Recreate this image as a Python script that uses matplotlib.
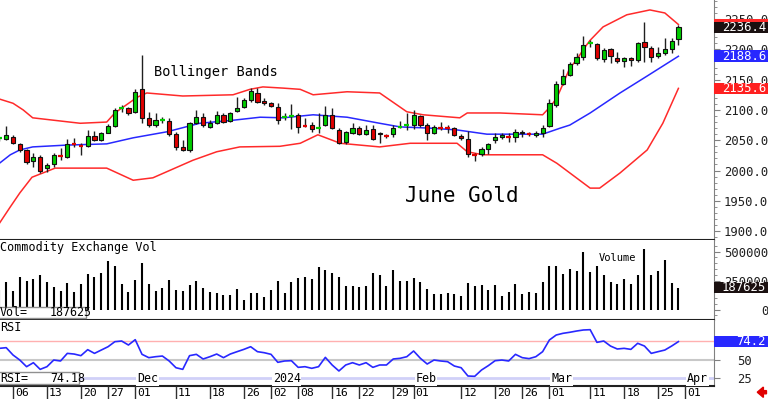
import numpy as np
import pandas as pd
import matplotlib
matplotlib.use('Agg')
import matplotlib.pyplot as plt
import matplotlib.transforms as mtransforms
from matplotlib.patches import Rectangle, FancyArrow
from matplotlib.ticker import MultipleLocator, FixedLocator

plt.rcParams['font.family'] = 'DejaVu Sans Mono'

# trading days, Nov 2 2023 .. Apr 1 2024 (COMEX holidays left out)
holidays = ['2023-11-23', '2023-12-25', '2024-01-01', '2024-01-15',
            '2024-02-19', '2024-03-29']
days = pd.bdate_range('2023-11-02', '2024-04-01', freq='C', holidays=holidays)

# daily OHLC, June gold
opens = [2052, 2052, 2055, 2044, 2034, 2016, 2022, 2004, 2011, 2025,
         2022, 2045, 2041, 2040, 2057, 2050, 2062, 2074, 2102, 2103,
         2097, 2135, 2087, 2075, 2082, 2082, 2060, 2039, 2034, 2078,
         2088, 2072, 2078, 2091, 2082, 2098, 2105, 2117, 2128, 2115,
         2111, 2105, 2087, 2089, 2092, 2074, 2075, 2069, 2075, 2092,
         2067, 2047, 2062, 2070, 2060, 2068, 2060, 2058, 2060, 2071,
         2074, 2075, 2090, 2075, 2062, 2071, 2071, 2070, 2057, 2052,
         2027, 2027, 2036, 2050, 2055, 2056, 2055, 2064, 2061, 2059,
         2062, 2073, 2108, 2143, 2158, 2177, 2187, 2209, 2209, 2184,
         2200, 2186, 2181, 2186, 2182, 2212, 2202, 2189, 2194, 2200,
         2217]
highs = [2055, 2073, 2058, 2045, 2035, 2029, 2026, 2012, 2029, 2037,
         2052, 2054, 2045, 2067, 2065, 2064, 2077, 2103, 2108, 2105,
         2135, 2190, 2097, 2095, 2088, 2087, 2064, 2050, 2080, 2100,
         2095, 2083, 2098, 2095, 2097, 2121, 2120, 2136, 2136, 2120,
         2113, 2111, 2095, 2110, 2095, 2087, 2080, 2095, 2106, 2103,
         2070, 2066, 2078, 2073, 2075, 2075, 2064, 2060, 2075, 2082,
         2095, 2100, 2092, 2078, 2075, 2080, 2075, 2072, 2060, 2065,
         2029, 2039, 2045, 2062, 2062, 2062, 2069, 2067, 2064, 2065,
         2075, 2118, 2148, 2167, 2179, 2194, 2222, 2215, 2210, 2202,
         2202, 2196, 2188, 2188, 2212, 2245, 2205, 2204, 2219, 2219,
         2240]
lows = [2049, 2050, 2043, 2031, 2011, 2006, 1996, 1998, 2006, 2017,
        2021, 2039, 2026, 2039, 2049, 2049, 2062, 2072, 2097, 2092,
        2095, 2078, 2072, 2072, 2078, 2057, 2034, 2032, 2031, 2077,
        2072, 2070, 2077, 2078, 2080, 2097, 2103, 2113, 2111, 2108,
        2105, 2077, 2083, 2068, 2062, 2072, 2064, 2062, 2073, 2068,
        2044, 2044, 2060, 2058, 2058, 2050, 2045, 2054, 2055, 2070,
        2067, 2068, 2072, 2050, 2060, 2067, 2062, 2057, 2050, 2022,
        2016, 2024, 2027, 2045, 2052, 2047, 2047, 2055, 2057, 2055,
        2055, 2072, 2105, 2141, 2156, 2174, 2182, 2204, 2182, 2179,
        2177, 2177, 2171, 2172, 2179, 2179, 2179, 2186, 2191, 2194,
        2207]
closes = [2053, 2059, 2045, 2034, 2014, 2022, 1999, 2009, 2026, 2024,
          2044, 2044, 2040, 2057, 2050, 2062, 2074, 2100, 2103, 2095,
          2130, 2087, 2075, 2083, 2083, 2060, 2039, 2034, 2078, 2088,
          2075, 2078, 2091, 2080, 2095, 2103, 2117, 2131, 2113, 2111,
          2106, 2083, 2088, 2090, 2072, 2073, 2068, 2070, 2092, 2070,
          2045, 2064, 2070, 2060, 2067, 2052, 2062, 2057, 2070, 2072,
          2075, 2092, 2075, 2062, 2072, 2070, 2070, 2059, 2054, 2027,
          2026, 2036, 2044, 2055, 2059, 2055, 2064, 2062, 2060, 2062,
          2070, 2111, 2143, 2156, 2176, 2187, 2207, 2210, 2186, 2199,
          2189, 2181, 2186, 2182, 2210, 2204, 2187, 2194, 2200, 2214,
          2236.4]

# Bollinger bands (bar index, price)
upper_idx = [0, 2, 3.5, 4.9, 11.9, 15.8, 17, 20.3, 21.7, 27, 34.4, 36.9, 38.8,
             41.8, 44.3, 46.2, 51.2, 56, 60, 62.4, 67.8, 68.9, 73.7, 80, 81.1,
             82.1, 83, 84, 85.1, 86, 87, 88.9, 92.4, 95.8, 98, 100]
upper_val = [2118, 2111, 2100, 2087, 2078, 2080, 2095, 2121, 2128, 2123, 2125,
             2134, 2138, 2136, 2134, 2125, 2130, 2128, 2097, 2092, 2087, 2095,
             2095, 2092, 2105, 2120, 2143, 2169, 2184, 2200, 2215, 2237, 2257,
             2265, 2260, 2241]
mid_idx = [0, 1.6, 3, 4.9, 9.9, 15.8, 19.7, 24.7, 29.5, 34.4, 38.4, 41.8, 46.2,
           51.2, 56, 59, 63.4, 67.4, 71.8, 80, 82.6, 84, 87, 91.4, 95.4, 100]
mid_val = [2012, 2026, 2034, 2039, 2042, 2044, 2054, 2064, 2078, 2083, 2088,
           2087, 2092, 2088, 2078, 2072, 2070, 2067, 2060, 2060, 2070, 2075,
           2095, 2128, 2156, 2188.6]
lower_idx = [0, 1.6, 3, 4.8, 6.4, 8.2, 15.8, 19.7, 22.6, 28.5, 32, 35.4, 41.3,
             44.3, 46.9, 50.2, 56, 60.5, 67.4, 68.9, 71.2, 80, 82.1, 87, 88.4,
             91.4, 95.4, 97.7, 100]
lower_val = [1913, 1940, 1963, 1989, 1996, 2004, 2004, 1984, 1988, 2017, 2031,
             2039, 2040, 2045, 2059, 2045, 2039, 2045, 2045, 2031, 2026, 2026,
             2012, 1971, 1971, 1996, 2034, 2078, 2135.6]

volume = [168000, 240000, 159000, 283000, 246000, 263000, 297000, 240000, 197000, 159000,
          226000, 154000, 217000, 303000, 283000, 312000, 418000, 378000, 217000, 154000,
          254000, 398000, 217000, 159000, 188000, 254000, 168000, 159000, 211000, 246000,
          183000, 148000, 140000, 125000, 125000, 177000, 82000, 140000, 140000, 110000,
          168000, 246000, 140000, 234000, 269000, 283000, 263000, 369000, 340000, 312000,
          283000, 203000, 203000, 191000, 203000, 312000, 297000, 205000, 340000, 246000,
          246000, 269000, 234000, 177000, 131000, 131000, 140000, 131000, 119000, 226000,
          205000, 211000, 168000, 211000, 119000, 154000, 217000, 131000, 154000, 140000,
          234000, 378000, 375000, 303000, 349000, 332000, 498000, 326000, 375000, 297000,
          234000, 217000, 263000, 217000, 294000, 519000, 294000, 335000, 427000, 226000,
          187625]

rsi = [65.1, 66, 56.1, 49.3, 40.3, 45.7, 36.7, 40.3, 49.3, 48,
       58.3, 57.4, 55.2, 63.3, 58.3, 62.8, 67.3, 74.1, 75, 69.6,
       76.8, 57, 52.5, 53.8, 54.7, 48, 38.9, 36.7, 55.2, 57,
       50.7, 53.8, 57.4, 52.5, 57.4, 60.6, 63.7, 67.3, 60.6, 59.2,
       57, 46.2, 48, 48.4, 39.4, 40.3, 38.1, 40.3, 52.9, 42.6,
       34.5, 42.6, 45.7, 42.6, 45.7, 39.4, 42.6, 42.6, 50.7, 51.6,
       53.8, 61.5, 51.6, 43.9, 49.3, 48, 47.1, 41.2, 38.9, 27.7,
       27.3, 35.8, 41.7, 48.4, 49.3, 48, 57, 52.5, 51.2, 53.8,
       60.6, 76.4, 83.1, 85.4, 86.8, 88.5, 89.9, 90.3, 73.2, 75,
       68.2, 64.2, 65.1, 63.7, 71.9, 68.2, 58.3, 60.6, 62.8, 68.2,
       74.18]

date_ticks = ['2023-11-06', '2023-11-13', '2023-11-20', '2023-11-27', '2023-12-01',
              '2023-12-11', '2023-12-18', '2023-12-26', '2024-01-02', '2024-01-08',
              '2024-01-16', '2024-01-22', '2024-01-29', '2024-02-01', '2024-02-12',
              '2024-02-20', '2024-02-26', '2024-03-01', '2024-03-11', '2024-03-18',
              '2024-03-25', '2024-04-01']
month_ticks = ['2023-12-01', '2024-01-02', '2024-02-01', '2024-03-01', '2024-04-01']
month_labels = ['Dec', '2024', 'Feb', 'Mar', 'Apr']

GREEN = '#00cc00'
RED = '#e00000'
BAND_RED = '#ff2a2a'
BLUE = '#2828ff'
GRAY = '#808080'

W, H = 768.0, 399.0


def rect(x0, y0, x1, y1):
    return [x0 / W, 1 - y1 / H, (x1 - x0) / W, (y1 - y0) / H]


def value_box(ax, y, h, text, color):
    tr = mtransforms.blended_transform_factory(ax.transAxes, ax.transData)
    ax.add_patch(Rectangle((1.0, y - h / 2), 54 / 714, h, transform=tr,
                           facecolor=color, edgecolor='none', clip_on=False, zorder=10))
    ax.text(766 / 714, y, text, transform=tr, ha='right', va='center',
            color='white', fontsize=8.8, clip_on=False, zorder=11)


def style_panel(ax, ticks, labels, pad):
    for s in ['top', 'left']:
        ax.spines[s].set_visible(False)
    ax.spines['right'].set_color(GRAY)
    ax.spines['bottom'].set_color('#202020')
    ax.spines['bottom'].set_linewidth(1.5)
    ax.set_xticks([])
    ax.yaxis.tick_right()
    ax.yaxis.set_major_locator(FixedLocator(ticks))
    ax.set_yticklabels(labels)
    ax.tick_params(axis='y', which='major', direction='out', length=4, color=GRAY,
                   labelsize=8.8, pad=pad, labelcolor='#202020')
    ax.tick_params(axis='y', which='minor', direction='out', length=2, color=GRAY)
    for lbl in ax.get_yticklabels():
        lbl.set_horizontalalignment('right')


fig = plt.figure(figsize=(7.68, 3.99), dpi=100)
ax_p = fig.add_axes(rect(0, 0, 714, 240))
ax_v = fig.add_axes(rect(0, 240, 714, 320))
ax_r = fig.add_axes(rect(0, 320, 714, 386))
ax_d = fig.add_axes(rect(0, 386, 714, 399))

n = len(closes)
idx = np.arange(n)
o = np.array(opens, dtype=float)
c = np.array(closes, dtype=float)
hi = np.array(highs, dtype=float)
lo = np.array(lows, dtype=float)
xlim = (0.085, 105.24)

# ---- price panel
ax_p.vlines(idx, lo, hi, color='#202020', lw=1, zorder=2)
body = np.abs(c - o) >= 1.5
cols = np.where(c >= o, GREEN, RED)
ax_p.bar(idx[body], (c - o)[body], bottom=o[body], width=0.62,
         color=cols[body], edgecolor='#101010', linewidth=0.8, zorder=3)
ax_p.hlines(c[~body], idx[~body] - 0.35, idx[~body] + 0.35, colors=cols[~body],
            lw=1.6, zorder=3)
ax_p.plot(upper_idx, upper_val, color=BAND_RED, lw=1.1, zorder=1)
ax_p.plot(lower_idx, lower_val, color=BAND_RED, lw=1.1, zorder=1)
ax_p.plot(mid_idx, mid_val, color=BLUE, lw=1.1, zorder=1)
ax_p.set_xlim(*xlim)
ax_p.set_ylim(1885.4, 2281.4)
price_ticks = list(range(1900, 2300, 50))
style_panel(ax_p, price_ticks, ['%.1f' % t for t in price_ticks], 35)
ax_p.yaxis.set_minor_locator(MultipleLocator(10))
ax_p.text(154 / 714, (240 - 72) / 240, 'Bollinger Bands', transform=ax_p.transAxes,
          fontsize=9.8, va='center', ha='left')
ax_p.text(405 / 714, (240 - 196) / 240, 'June Gold', transform=ax_p.transAxes,
          fontsize=15, va='center', ha='left')
value_box(ax_p, upper_val[-1], 18, '', BAND_RED)
value_box(ax_p, closes[-1], 18, '%.1f' % closes[-1], '#1a1010')
value_box(ax_p, mid_val[-1], 19, '%.1f' % mid_val[-1], BLUE)
value_box(ax_p, lower_val[-1], 18, '%.1f' % lower_val[-1], '#ff2020')

# ---- volume panel
ax_v.vlines(idx, 0, volume, color='black', lw=1.5)
ax_v.set_xlim(*xlim)
ax_v.set_ylim(-90517, 599138)
style_panel(ax_v, [0, 250000, 500000], ['0', '250000', '500000'], 35)
ax_v.yaxis.set_minor_locator(MultipleLocator(50000))
ax_v.text(0.0, 0.9, 'Commodity Exchange Vol', transform=ax_v.transAxes,
          fontsize=8.5, va='center', ha='left')
ax_v.text((599 + 0.58) / 6.79, 0.775, 'Volume', transform=mtransforms.blended_transform_factory(
    ax_v.transData, ax_v.transAxes), fontsize=7.5, va='center', ha='left')
ax_v.add_patch(Rectangle((-0.01, 0.025), 93.5 / 714, 0.1375, transform=ax_v.transAxes,
                         facecolor='white', edgecolor='#909090', lw=1, zorder=10))
ax_v.text(0.0, 0.094, 'Vol=', transform=ax_v.transAxes, va='center', ha='left',
          fontsize=8.4, zorder=11)
ax_v.text(92 / 714, 0.094, '%d' % volume[-1], transform=ax_v.transAxes, va='center',
          ha='right', fontsize=8.4, zorder=11)
value_box(ax_v, volume[-1], 95000, '%d' % volume[-1], '#1a1010')

# ---- RSI panel
ax_r.axhline(75, color='#ffb0b0', lw=1, zorder=1)
ax_r.axhline(50, color='#c8c8c8', lw=1.5, zorder=1)
ax_r.axhline(24.5, color='#d0d0f8', lw=2, zorder=1)
ax_r.plot(idx, rsi, color=BLUE, lw=1.2, zorder=3)
ax_r.set_xlim(*xlim)
ax_r.set_ylim(14.2, 103.4)
style_panel(ax_r, [25, 50, 75], ['25', '50', ''], 23.5)
ax_r.text(0.0, 0.88, 'RSI', transform=ax_r.transAxes, fontsize=8.5, va='center', ha='left')
day_pos = {d.strftime('%Y-%m-%d'): i for i, d in enumerate(days)}
for m, lab in zip(month_ticks, month_labels):
    ax_r.text(day_pos[m] + 0.25, 24.5, lab, fontsize=8.4, va='center', ha='left', zorder=4,
              bbox=dict(facecolor='white', edgecolor='none', pad=0.5))
ax_r.add_patch(Rectangle((-0.01, 0.03), 86.5 / 714, 0.182, transform=ax_r.transAxes,
                         facecolor='white', edgecolor='#909090', lw=1, zorder=10))
ax_r.text(0.0, 0.121, 'RSI=', transform=ax_r.transAxes, va='center', ha='left',
          fontsize=8.4, zorder=11)
ax_r.text(85 / 714, 0.121, '%.2f' % rsi[-1], transform=ax_r.transAxes, va='center',
          ha='right', fontsize=8.4, zorder=11)
value_box(ax_r, rsi[-1], 15, '%.1f' % rsi[-1], BLUE)

# ---- date row
ax_d.set_xlim(*xlim)
ax_d.set_ylim(0, 1)
ax_d.axis('off')
tick_pos = [day_pos[d] for d in date_ticks]
ax_d.vlines(tick_pos, 0, 1, color='#303030', lw=1)
for p, d in zip(tick_pos, date_ticks):
    ax_d.text(p + 0.3, 0.45, d[-2:], fontsize=8.2, va='center', ha='left')

fig.add_artist(FancyArrow(0.998, 0.017, -0.012, 0, width=0.008, head_width=0.026,
                          head_length=0.008, length_includes_head=True,
                          color='#e00000', transform=fig.transFigure))

fig.savefig('out.png', dpi=100)
